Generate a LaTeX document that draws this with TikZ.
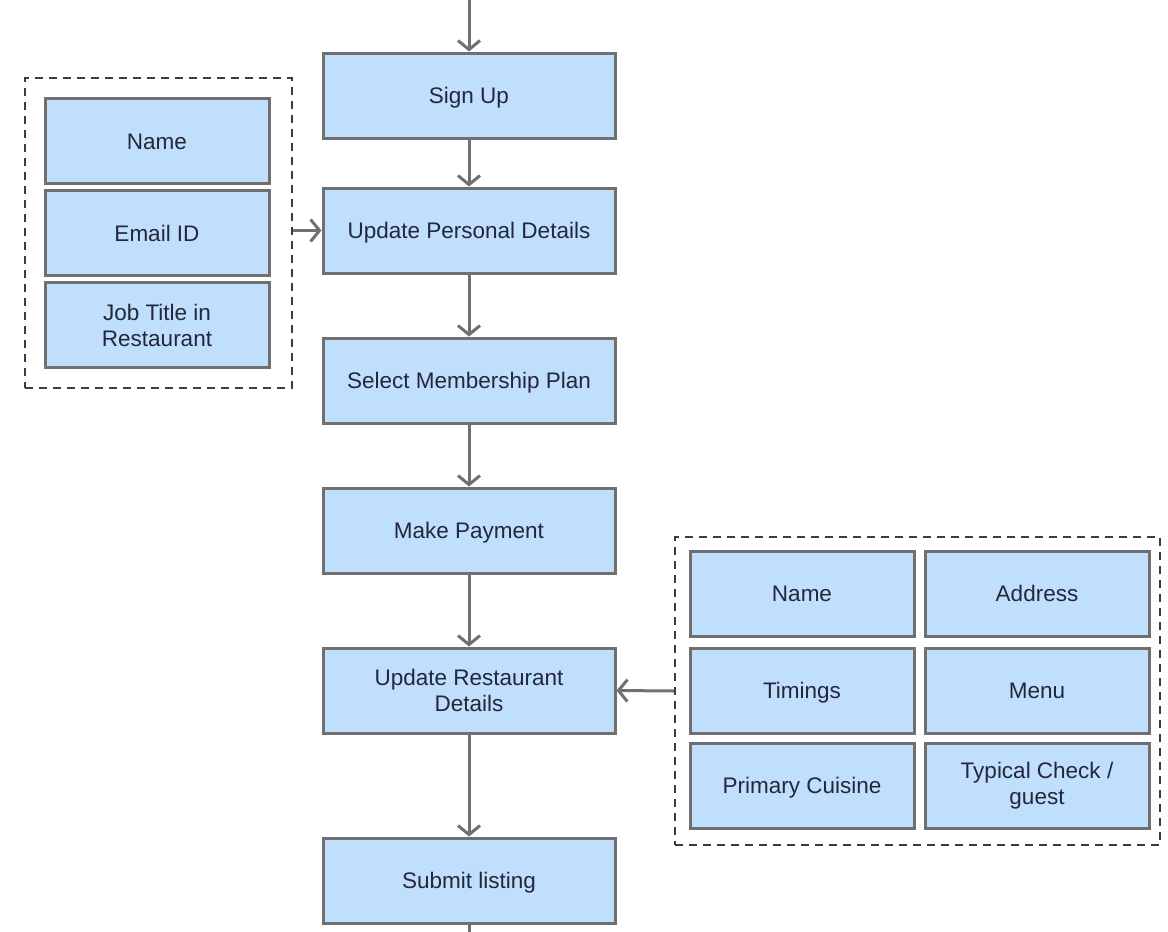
\documentclass[tikz,border=0pt]{standalone}
\usepackage{fontspec}
\setmainfont{Liberation Sans}
\usetikzlibrary{arrows.meta}
\definecolor{boxfill}{RGB}{191,223,252}
\definecolor{boxline}{RGB}{112,112,112}
\definecolor{txt}{RGB}{36,38,60}
\definecolor{grpline}{RGB}{60,60,60}
\tikzset{
  stepbox/.style={draw=boxline, line width=3pt, fill=boxfill, rectangle,
    minimum width=292pt, minimum height=85pt, inner sep=2pt,
    align=center, text=txt, font=\fontsize{22.5}{26}\selectfont},
  oneline/.style={text height=16pt, text depth=0pt},
  fieldbox/.style={stepbox, minimum width=224pt},
  groupbox/.style={draw=grpline, line width=2pt, dash pattern=on 8pt off 6pt,
    rectangle, inner sep=0pt},
  flow/.style={draw=boxline, line width=3pt,
    -{Straight Barb[length=9pt,width=22pt,line width=3pt]}},
  plain/.style={draw=boxline, line width=3pt}
}
\begin{document}
\begin{tikzpicture}[x=1pt,y=-1pt]
\useasboundingbox (0,0) rectangle (1168,932);

% main flow
\node[stepbox, oneline] (signup) at (469,95.5) {Sign Up};
\node[stepbox, oneline] (personal) at (469,230.5) {Update Personal Details};
\node[stepbox, oneline] (plan) at (469,380.5) {Select Membership Plan};
\node[stepbox, oneline] (pay) at (469,530.5) {Make Payment};
\node[stepbox] (rest) at (469,690.5) {Update Restaurant\\Details};
\node[stepbox, oneline] (submit) at (469,880.5) {Submit listing};

\coordinate (start) at (469,0);
\coordinate (finish) at (469,932);

% personal details fields
\node[groupbox, minimum width=267pt, minimum height=310pt] (pgroup) at (158.5,233) {};
\node[fieldbox, oneline] (pname) at (157,141) {Name};
\node[fieldbox, oneline] (pmail) at (157,233) {Email ID};
\node[fieldbox] (pjob) at (157,325) {Job Title in\\Restaurant};

% restaurant detail fields
\node[groupbox, minimum width=485pt, minimum height=308pt] (rgroup) at (917.5,691) {};
\node[fieldbox, oneline] (rname) at (802,593.5) {Name};
\node[fieldbox, oneline] (raddr) at (1037,593.5) {Address};
\node[fieldbox, oneline] (rtime) at (802,690.5) {Timings};
\node[fieldbox, oneline] (rmenu) at (1037,690.5) {Menu};
\node[fieldbox, oneline] (rcuis) at (802,785.5) {Primary Cuisine};
\node[fieldbox] (rcheck) at (1037,785.5) {Typical Check /\\guest};

% connectors
\draw[flow] (start) -- (signup);
\draw[flow] (signup) -- (personal);
\draw[flow] (personal) -- (plan);
\draw[flow] (plan) -- (pay);
\draw[flow] (pay) -- (rest);
\draw[flow] (rest) -- (submit);
\draw[plain] (submit) -- (finish);
\draw[flow] (pgroup.east |- personal) -- (personal.west);
\draw[flow] (rgroup.west) -- (rest.east);
\end{tikzpicture}
\end{document}
